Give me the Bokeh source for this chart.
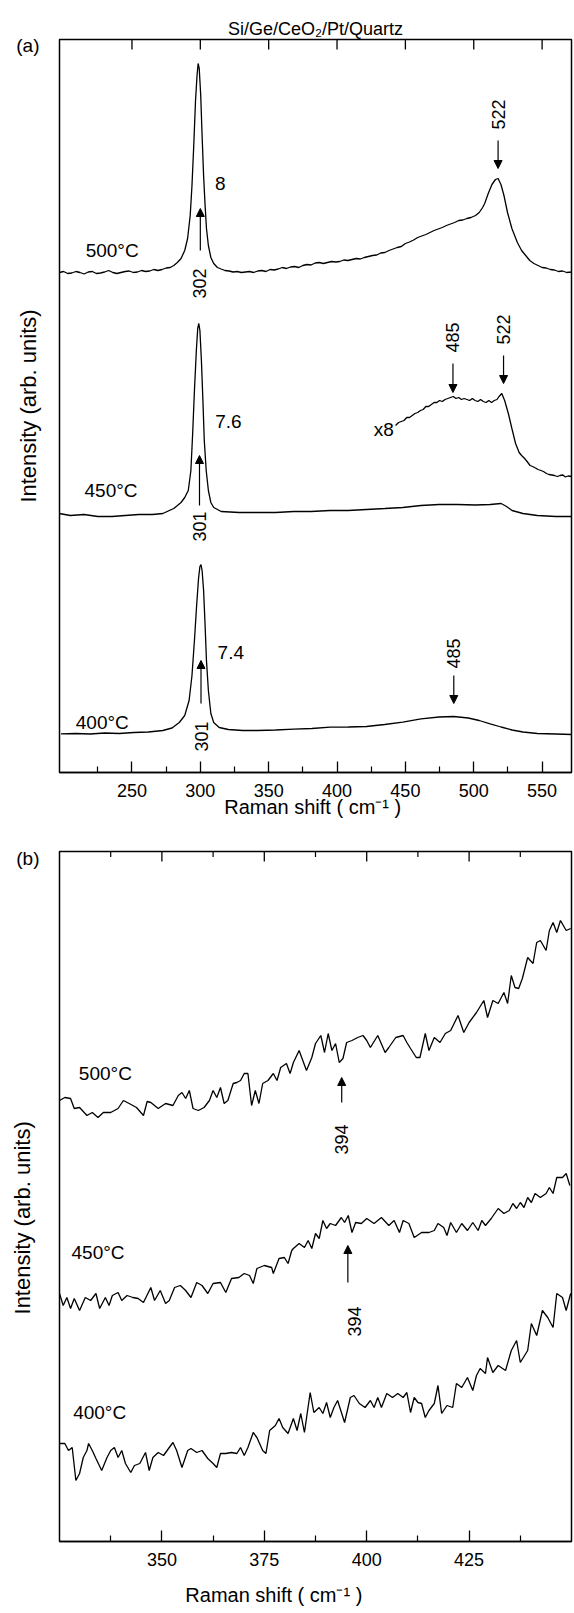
import math
from bokeh.plotting import figure
from bokeh.layouts import column
from bokeh.models import Label, Arrow, NormalHead, FixedTicker, ColumnDataSource
from bokeh.embed import file_html
from bokeh.resources import INLINE

FONT = "Liberation Sans"
NBSP = "\u00a0"

# ---------------- Panel (a) data : Raman shift (cm-1) vs intensity (arb. units) ----------------
a500_x = [197, 200, 203, 206, 209, 212, 215, 218, 221, 224, 227, 230, 233, 236, 239, 242, 245, 248,
          251, 254, 257, 260, 263, 266, 269, 272, 275, 278, 280.6, 283.2, 285.9, 288.6, 290.7,
          292.6, 293.9, 295.2, 296.5, 297.6, 298.4, 299.2, 300.3, 301.3, 302.4, 303.5, 304.5, 305.9,
          307.7, 309.8, 312.5, 315.2, 318, 321, 324, 327, 330, 333, 336, 339, 342, 345, 348, 351,
          354, 357, 360, 363, 366, 369, 372, 375, 378, 381, 384, 387, 390, 393, 396, 399, 402, 405,
          408, 411, 414, 417, 420, 423, 426, 429, 432, 435, 438, 441, 444, 447, 450, 453, 456, 459,
          462, 465, 468, 471, 474, 477, 480, 483, 486, 489, 492, 495, 498, 501.3, 504, 506.5, 508.0,
          510.6, 513.3, 515.9, 517.8, 519.9, 522.1, 524.7, 527.9, 531.9, 535, 538, 541, 544, 547,
          550, 553, 556, 559, 562, 565, 568, 571.8]
a500_y = [50.0, 50.1, 49.9, 49.95, 50.1, 50.0, 49.85, 50.05, 50.1, 49.9, 49.95, 50.05, 50.2, 50.0,
          49.9, 50.0, 50.1, 50.15, 50.0, 50.05, 50.2, 50.1, 50.15, 50.3, 50.2, 50.3, 50.45, 50.5,
          50.7, 51.0, 51.4, 52.2, 53.4, 55.7, 58.7, 62.7, 67.2, 69.7, 70.9, 70.4, 67.7, 63.7, 59.7,
          56.7, 54.4, 52.7, 51.5, 50.9, 50.5, 50.35, 50.2, 50.15, 50.05, 50.1, 50.0, 50.05, 50.1,
          50.0, 50.15, 50.2, 50.1, 50.3, 50.25, 50.35, 50.5, 50.4, 50.55, 50.6, 50.5, 50.7, 50.8,
          50.75, 50.95, 51.0, 50.9, 51.0, 51.1, 51.05, 51.1, 51.25, 51.2, 51.3, 51.4, 51.35, 51.5,
          51.6, 51.7, 51.75, 51.95, 52.0, 52.2, 52.35, 52.5, 52.6, 52.9, 53.05, 53.25, 53.5, 53.65,
          53.8, 54.0, 54.2, 54.35, 54.5, 54.7, 54.85, 55.0, 55.2, 55.25, 55.4, 55.5, 55.7, 56.0,
          56.5, 56.9, 57.9, 58.8, 59.3, 59.4, 58.8, 57.7, 56.0, 54.4, 53.0, 52.2, 51.7, 51.2, 50.9,
          50.7, 50.5, 50.45, 50.3, 50.25, 50.1, 50.15, 50.0, 50.05]

a450_x = [196.8, 205.0, 215.0, 225.0, 235.4, 245.0, 255.0, 265.0, 272.6, 280.6, 285.9, 288.6, 291.2,
          293.1, 294.4, 295.7, 297.1, 298.1, 298.9, 299.7, 300.8, 301.9, 302.9, 304.3, 305.9, 307.7,
          309.8, 311.2, 315.2, 328.5, 341.8, 355.0, 368.4, 381.0, 394.9, 408.0, 421.5, 435.0, 448.1,
          461.4, 474.7, 488.0, 501.3, 512.0, 520.0, 524.0, 528.0, 536.0, 546.5, 560.0, 571.8]
a450_y = [25.9, 25.7, 25.8, 25.6, 25.6, 25.7, 25.8, 25.8, 25.9, 26.4, 27.0, 27.5, 28.2,
          30.2, 33.9, 38.2, 42.2, 44.4, 44.9, 44.2, 41.2, 37.2, 33.2, 30.2, 28.2, 27.0,
          26.5, 26.4, 26.1, 26.0, 26.0, 26.0, 26.1, 26.1, 26.2, 26.2, 26.3, 26.4, 26.5,
          26.7, 26.8, 26.8, 26.75, 26.8, 26.9, 26.6, 26.2, 25.9, 25.7, 25.6, 25.6]

a450x8_x = [442.8, 445, 447, 449, 451, 453, 455, 457, 459, 461, 463, 465, 467, 469, 471, 473, 475,
            477, 479, 481, 483, 485, 487, 489, 491, 493, 495, 497, 499, 501, 503, 505, 507, 509, 511,
            513, 515, 517, 518.5, 520.5, 522.6, 525.3, 527.9, 530.6, 533.2, 535, 537.2, 539, 541.2,
            543, 545.2, 547, 549.2, 551, 553.2, 555, 557.2, 559, 561.2, 563, 565.2, 567, 569, 571.8]
a450x8_y = [34.7, 35.0, 35.1, 35.2, 35.5, 35.5, 35.7, 35.9, 36.0, 36.2, 36.3, 36.6, 36.6, 36.8, 37.0,
            37.0, 37.2, 37.1, 37.3, 37.4, 37.5, 37.6, 37.4, 37.5, 37.3, 37.4, 37.3, 37.2, 37.4, 37.2,
            37.1, 37.3, 37.1, 37.0, 37.2, 37.0, 37.2, 37.3, 37.6, 37.9, 37.2, 35.9, 34.4, 32.9, 32.0,
            31.7, 31.4, 31.1, 30.7, 30.6, 30.45, 30.3, 30.2, 30.1, 29.9, 29.8, 29.75, 29.7, 29.6,
            29.7, 29.75, 29.55, 29.65, 29.6]

a400_x = [198.1, 208.8, 219.4, 230.1, 240.7, 251.3, 262.0, 272.6, 279.3, 284.6, 288.6, 291.8, 293.9,
          295.7, 297.3, 298.7, 299.7, 300.5, 301.3, 302.4, 303.5, 304.5, 305.9, 307.7, 309.8, 313.8,
          320.5, 331.1, 341.8, 355.1, 368.4, 381.6, 395.0, 408.2, 421.5, 434.8, 448.1, 461.4, 474.7,
          485.4, 496.0, 504.0, 512.0, 520.0, 528.0, 536.0, 546.6, 559.8, 571.8]
a400_y = [3.87, 3.9, 3.85, 3.95, 3.9, 4.0, 4.05, 4.2, 4.45, 5.0, 5.7, 7.2, 9.7,
          13.2, 16.7, 19.4, 20.6, 20.8, 20.2, 18.2, 14.7, 11.2, 8.2, 5.9, 5.0, 4.5,
          4.3, 4.2, 4.2, 4.25, 4.33, 4.4, 4.53, 4.55, 4.6, 4.8, 5.03, 5.37, 5.55,
          5.6, 5.45, 5.2, 4.87, 4.55, 4.25, 4.05, 3.9, 3.85, 3.8]

# annotations of panel (a)
a_lab_text = ["500°C", "450°C", "400°C", "8", "7.6", "7.4"]
a_lab_x = [235.5, 234.7, 228.3, 314.6, 320.5, 322.3]
a_lab_y = [52.2, 28.2, 5.0, 58.9, 35.1, 12.0]
a_x8_text, a_x8_x, a_x8_y = "x8", 441.5, 34.3
a_rot_text = ["302", "522", "301", "485", "522", "301", "485"]
a_rot_x = [299.4, 517.8, 299.4, 484.6, 521.8, 301.1, 485.4]
a_rot_y = [48.9, 65.8, 24.6, 43.5, 44.3, 3.6, 11.9]
a_arr_x = [300.0, 517.8, 299.4, 484.8, 521.8, 300.5, 485.4]
a_arr_y0 = [52.2, 63.2, 26.7, 40.9, 41.7, 6.9, 9.7]
a_arr_y1 = [56.4, 60.4, 31.7, 38.0, 38.9, 11.2, 6.9]
a_ticks = [250, 300, 350, 400, 450, 500, 550]
a_minor = [225, 275, 325, 375, 425, 475, 525]
a_panel_tick = 72.7        # height at which "(a)" sits
a_title = "Si/Ge/CeO₂/Pt/Quartz"
a_xlabel = "Raman shift  ( cm⁻¹ )"
ylabel = "Intensity (arb. units)"

# ---------------- Panel (b) data ----------------
b500_x = [325.0, 326.3, 327.7, 328.6, 329.9, 331.7, 333.0, 334.4, 335.7, 337.5, 339.3, 340.6, 342.0,
          343.8, 345.5, 346.4, 347.3, 349.1, 350.9, 352.7, 354.0, 354.9, 355.8, 356.7, 357.6, 358.9,
          360.3, 361.6, 362.5, 363.4, 364.3, 365.2, 366.1, 367.4, 368.3, 369.2, 370.1, 371.0, 371.9,
          372.8, 373.7, 374.6, 375.9, 377.2, 378.1, 379.0, 380.4, 381.3, 382.1, 383.5, 384.4, 385.3,
          386.6, 387.5, 388.8, 389.7, 390.6, 391.5, 392.4, 393.3, 394.2, 395.1, 396.4, 397.8, 399.1,
          400.0, 400.9, 402.7, 404.5, 405.4, 407.1, 408.9, 409.8, 410.7, 412.1, 413.0, 414.3, 415.2,
          416.5, 417.9, 419.2, 420.5, 422.3, 423.7, 425.0, 426.8, 428.6, 429.5, 430.8, 432.1, 433.5,
          434.4, 435.3, 436.2, 437.1, 438.0, 439.3, 440.6, 441.5, 442.4, 443.8, 444.6, 445.5, 446.4,
          447.3, 448.7, 449.8]
b500_y = [44.1, 44.4, 44.3, 43.3, 43.4, 42.6, 42.9, 42.4, 42.9, 42.9, 43.3, 44.1, 43.8,
          43.4, 42.6, 44.0, 43.9, 43.3, 43.8, 43.6, 44.6, 44.9, 44.3, 45.1, 43.3, 43.1,
          43.4, 44.1, 45.1, 44.4, 45.4, 43.8, 44.1, 45.8, 45.9, 46.1, 46.8, 46.8, 43.6,
          45.1, 43.8, 45.8, 46.1, 46.8, 46.1, 47.4, 47.8, 46.8, 47.9, 49.1, 48.1, 47.1,
          48.4, 49.8, 50.6, 48.9, 50.8, 49.1, 49.8, 47.9, 48.3, 49.9, 50.1, 50.4, 50.6,
          50.1, 49.4, 50.6, 48.9, 49.4, 50.4, 50.6, 49.9, 49.3, 48.4, 48.4, 50.8, 49.1,
          50.4, 49.9, 50.8, 51.1, 52.6, 50.9, 51.9, 52.9, 54.1, 52.4, 54.1, 53.8, 54.9,
          53.8, 56.6, 55.4, 55.3, 56.3, 58.4, 57.8, 59.9, 60.1, 59.1, 61.1, 61.9, 60.9,
          62.1, 61.1, 61.3]

b450_x = [325.0, 325.9, 326.8, 327.7, 328.6, 329.9, 331.3, 332.6, 333.9, 334.8, 336.2, 337.1, 337.9,
          339.3, 340.2, 341.5, 342.9, 344.2, 345.5, 347.3, 348.2, 349.6, 350.9, 351.8, 353.1, 354.5,
          355.8, 357.1, 358.5, 359.8, 361.2, 362.5, 364.3, 365.6, 367.0, 368.8, 370.1, 371.4, 372.3,
          373.2, 375.0, 376.8, 377.2, 378.6, 379.9, 380.8, 381.7, 382.1, 383.5, 384.8, 385.7, 386.6,
          387.5, 388.4, 389.3, 390.2, 391.1, 392.4, 393.8, 394.6, 395.5, 396.4, 397.3, 398.7, 400.0,
          401.8, 403.6, 405.4, 406.7, 408.0, 408.9, 410.3, 411.6, 413.4, 415.2, 416.5, 417.4, 418.8,
          419.6, 420.5, 421.9, 423.2, 424.6, 425.9, 427.2, 428.1, 429.0, 430.4, 432.1, 433.5, 434.8,
          435.7, 436.6, 437.5, 438.4, 439.3, 440.2, 441.1, 442.4, 443.8, 444.6, 445.5, 446.4, 447.8,
          448.7, 449.6]
b450_y = [24.8, 23.6, 24.4, 23.3, 24.3, 23.1, 24.4, 24.1, 24.8, 23.3, 24.4, 23.6, 24.6,
          24.9, 24.1, 24.6, 24.4, 24.3, 23.9, 25.4, 24.1, 25.1, 23.8, 24.1, 25.4, 25.6,
          25.1, 24.4, 25.9, 25.6, 24.8, 25.8, 25.9, 24.9, 26.3, 26.4, 26.8, 26.6, 25.8,
          27.3, 27.6, 27.4, 26.8, 28.3, 28.4, 27.8, 29.1, 29.3, 29.8, 29.4, 30.1, 29.3,
          30.8, 30.3, 32.1, 31.3, 31.8, 31.6, 32.4, 31.9, 32.6, 30.9, 31.9, 31.8, 32.3,
          31.8, 32.4, 31.6, 32.1, 30.9, 32.1, 31.8, 30.4, 30.9, 30.9, 31.1, 31.8, 31.4,
          30.6, 31.9, 30.9, 31.8, 31.1, 31.9, 31.1, 32.1, 31.6, 32.3, 33.3, 32.8, 33.1,
          33.8, 33.3, 33.9, 33.4, 34.4, 33.9, 34.8, 34.4, 34.8, 35.4, 34.8, 36.4, 36.4,
          36.8, 35.6]

b400_x = [325.0, 326.3, 327.2, 328.1, 329.0, 329.9, 330.8, 331.7, 332.1, 333.0, 333.9, 335.3, 336.6,
          337.5, 338.4, 339.3, 340.2, 341.1, 342.4, 343.3, 344.6, 346.0, 346.9, 347.8, 349.1, 350.4,
          351.8, 352.7, 353.6, 354.9, 356.3, 357.1, 358.5, 359.8, 361.2, 362.5, 363.4, 364.3, 365.6,
          367.0, 368.3, 369.2, 370.1, 371.0, 372.3, 373.2, 374.6, 375.4, 376.3, 377.7, 378.6, 379.5,
          380.8, 382.1, 383.0, 383.9, 384.8, 386.2, 387.1, 388.4, 389.3, 390.2, 391.1, 392.0, 392.9,
          394.6, 396.0, 396.9, 398.2, 399.6, 400.9, 401.8, 402.7, 403.6, 404.9, 406.3, 407.6, 408.9,
          409.8, 410.7, 411.6, 412.5, 413.4, 414.3, 415.2, 416.5, 417.4, 418.3, 419.6, 421.0, 421.9,
          423.2, 424.6, 425.9, 426.8, 427.7, 429.0, 429.5, 430.8, 432.1, 433.9, 435.3, 436.6, 437.5,
          439.3, 440.2, 441.5, 442.9, 444.2, 445.5, 446.4, 447.8, 448.7, 449.8]
b400_y = [9.8, 9.8, 9.1, 9.4, 6.1, 6.8, 8.4, 9.1, 9.8, 9.1, 8.3, 7.1, 8.4,
          9.1, 9.4, 8.4, 9.1, 7.8, 6.9, 7.6, 7.8, 8.9, 7.1, 8.4, 8.9, 8.6,
          9.4, 9.9, 9.1, 7.4, 9.1, 9.3, 8.9, 9.1, 8.3, 7.8, 7.4, 8.8, 8.8,
          8.9, 8.8, 9.4, 8.6, 9.4, 10.9, 10.4, 9.1, 8.8, 11.1, 11.6, 12.3, 11.4,
          10.8, 12.3, 11.1, 12.8, 10.9, 14.9, 12.9, 13.4, 12.8, 13.9, 12.4, 13.4, 14.1,
          11.9, 14.4, 14.6, 13.8, 13.4, 14.1, 13.4, 14.4, 13.4, 14.8, 14.4, 14.8, 14.4,
          14.9, 12.9, 14.4, 13.9, 13.8, 12.4, 13.1, 13.8, 15.6, 12.8, 13.6, 13.4, 15.8,
          15.4, 16.4, 15.1, 16.6, 17.3, 16.8, 18.4, 16.9, 17.6, 17.1, 19.1, 20.1, 17.9,
          19.1, 21.8, 20.6, 23.1, 22.4, 21.4, 24.8, 24.4, 23.1, 24.8]

b_lab_text = ["500°C", "450°C", "400°C"]
b_lab_x = [336.2, 334.4, 334.8]
b_lab_y = [46.8, 28.9, 12.9]
b_rot_text = ["394", "394"]
b_rot_x = [393.8, 396.9]
b_rot_y = [40.2, 22.0]
b_arr_x = [393.9, 395.4]
b_arr_y0 = [43.9, 25.9]
b_arr_y1 = [46.4, 29.6]
b_ticks = [350, 375, 400, 425]
b_minor = [337.5, 362.5, 387.5, 412.5, 437.5]
b_panel_tick = 68.3        # height at which "(b)" sits
b_xlabel = "Raman shift ( cm⁻¹ )"


def label(p, x, y, text, size="19px", angle=0.0, align="center"):
    p.add_layout(Label(x=x, y=y, text=text, angle=angle, text_font=FONT,
                       text_font_size=size, text_align=align, text_baseline="middle",
                       text_color="black"))


def style(p, ticks, minor, top_ticks, top_minor, panel_tick, panel_text,
          ylab, ylab_standoff, xlab, xlab_standoff):
    p.xgrid.visible = False
    p.ygrid.visible = False
    p.outline_line_color = "black"
    p.outline_line_width = 1.5
    p.outline_line_alpha = 1.0
    p.background_fill_color = "white"
    p.border_fill_color = "white"
    # bottom axis
    ax = p.xaxis[0]
    ax.ticker = FixedTicker(ticks=ticks, minor_ticks=minor)
    ax.major_tick_in = 11
    ax.major_tick_out = 0
    ax.minor_tick_in = 6
    ax.minor_tick_out = 0
    ax.axis_line_width = 1.5
    ax.major_tick_line_width = 1.3
    ax.minor_tick_line_width = 1.2
    ax.major_label_text_font = FONT
    ax.major_label_text_font_size = "18px"
    ax.major_label_text_color = "black"
    ax.major_label_standoff = 11
    ax.axis_label = xlab
    ax.axis_label_text_font = FONT
    ax.axis_label_text_font_size = "20px"
    ax.axis_label_text_font_style = "normal"
    ax.axis_label_text_color = "black"
    ax.axis_label_standoff = xlab_standoff
    # left axis: only carries the panel letter and the axis title
    ya = p.yaxis[0]
    ya.ticker = FixedTicker(ticks=[panel_tick])
    ya.major_label_overrides = {panel_tick: panel_text}
    ya.major_tick_in = 0
    ya.major_tick_out = 0
    ya.minor_tick_in = 0
    ya.minor_tick_out = 0
    ya.axis_line_color = None
    ya.major_label_standoff = 20
    ya.major_label_text_font = FONT
    ya.major_label_text_font_size = "19px"
    ya.major_label_text_color = "black"
    ya.axis_label = ylab
    ya.axis_label_text_font = FONT
    ya.axis_label_text_font_size = "22px"
    ya.axis_label_text_font_style = "normal"
    ya.axis_label_text_color = "black"
    ya.axis_label_standoff = ylab_standoff
    # inward ticks on the top edge of the frame
    top = p.y_range.end
    p.scatter(top_ticks, [top] * len(top_ticks), marker="dash", size=20, angle=math.pi / 2,
              line_color="black", line_width=1.3)
    if top_minor:
        p.scatter(top_minor, [top] * len(top_minor), marker="dash", size=11, angle=math.pi / 2,
                  line_color="black", line_width=1.2)


def arrows(p, xs, y0s, y1s):
    src = ColumnDataSource(dict(x=xs, y0=y0s, y1=y1s))
    p.add_layout(Arrow(end=NormalHead(size=8, line_color="black", fill_color="black", line_width=1),
                       source=src, x_start="x", y_start="y0", x_end="x", y_end="y1",
                       line_color="black", line_width=1.2))


# ---------------- figure (a) ----------------
p1 = figure(width=574, height=836, x_range=(197.0, 571.5), y_range=(0, 73.3),
            min_border_left=56, min_border_right=2, min_border_top=39, min_border_bottom=64,
            output_backend="svg", toolbar_location=None)
style(p1, a_ticks, a_minor, a_ticks, [], a_panel_tick, "(a)",
      ylabel, -28, a_xlabel, -4)
p1.title.text = a_title
p1.title.align = "center"
p1.title.offset = -15
p1.title.standoff = 2
p1.title.text_font = FONT
p1.title.text_font_size = "18px"
p1.title.text_font_style = "normal"
p1.title.text_color = "black"
for xs, ys in [(a500_x, a500_y), (a450_x, a450_y), (a450x8_x, a450x8_y), (a400_x, a400_y)]:
    p1.line(xs, ys, line_color="black", line_width=1.3)
for t, x, y in zip(a_lab_text, a_lab_x, a_lab_y):
    label(p1, x, y, t)
label(p1, a_x8_x, a_x8_y, a_x8_text, align="right")
for t, x, y in zip(a_rot_text, a_rot_x, a_rot_y):
    label(p1, x, y, t, size="18px", angle=math.pi / 2)
arrows(p1, a_arr_x, a_arr_y0, a_arr_y1)

# ---------------- figure (b) ----------------
p2 = figure(width=574, height=777, x_range=(325, 450), y_range=(0, 69),
            min_border_left=59, min_border_right=3, min_border_top=15, min_border_bottom=72,
            output_backend="svg", toolbar_location=None)
style(p2, b_ticks, b_minor, b_ticks, b_minor, b_panel_tick, "(b)",
      ylabel + NBSP * 7, -22, b_xlabel + NBSP * 15, 15)
for xs, ys in [(b500_x, b500_y), (b450_x, b450_y), (b400_x, b400_y)]:
    p2.line(xs, ys, line_color="black", line_width=1.3)
for t, x, y in zip(b_lab_text, b_lab_x, b_lab_y):
    label(p2, x, y, t)
for t, x, y in zip(b_rot_text, b_rot_x, b_rot_y):
    label(p2, x, y, t, size="18px", angle=math.pi / 2)
arrows(p2, b_arr_x, b_arr_y0, b_arr_y1)

layout = column(p1, p2)
open("out.html", "w").write(file_html(layout, INLINE))
